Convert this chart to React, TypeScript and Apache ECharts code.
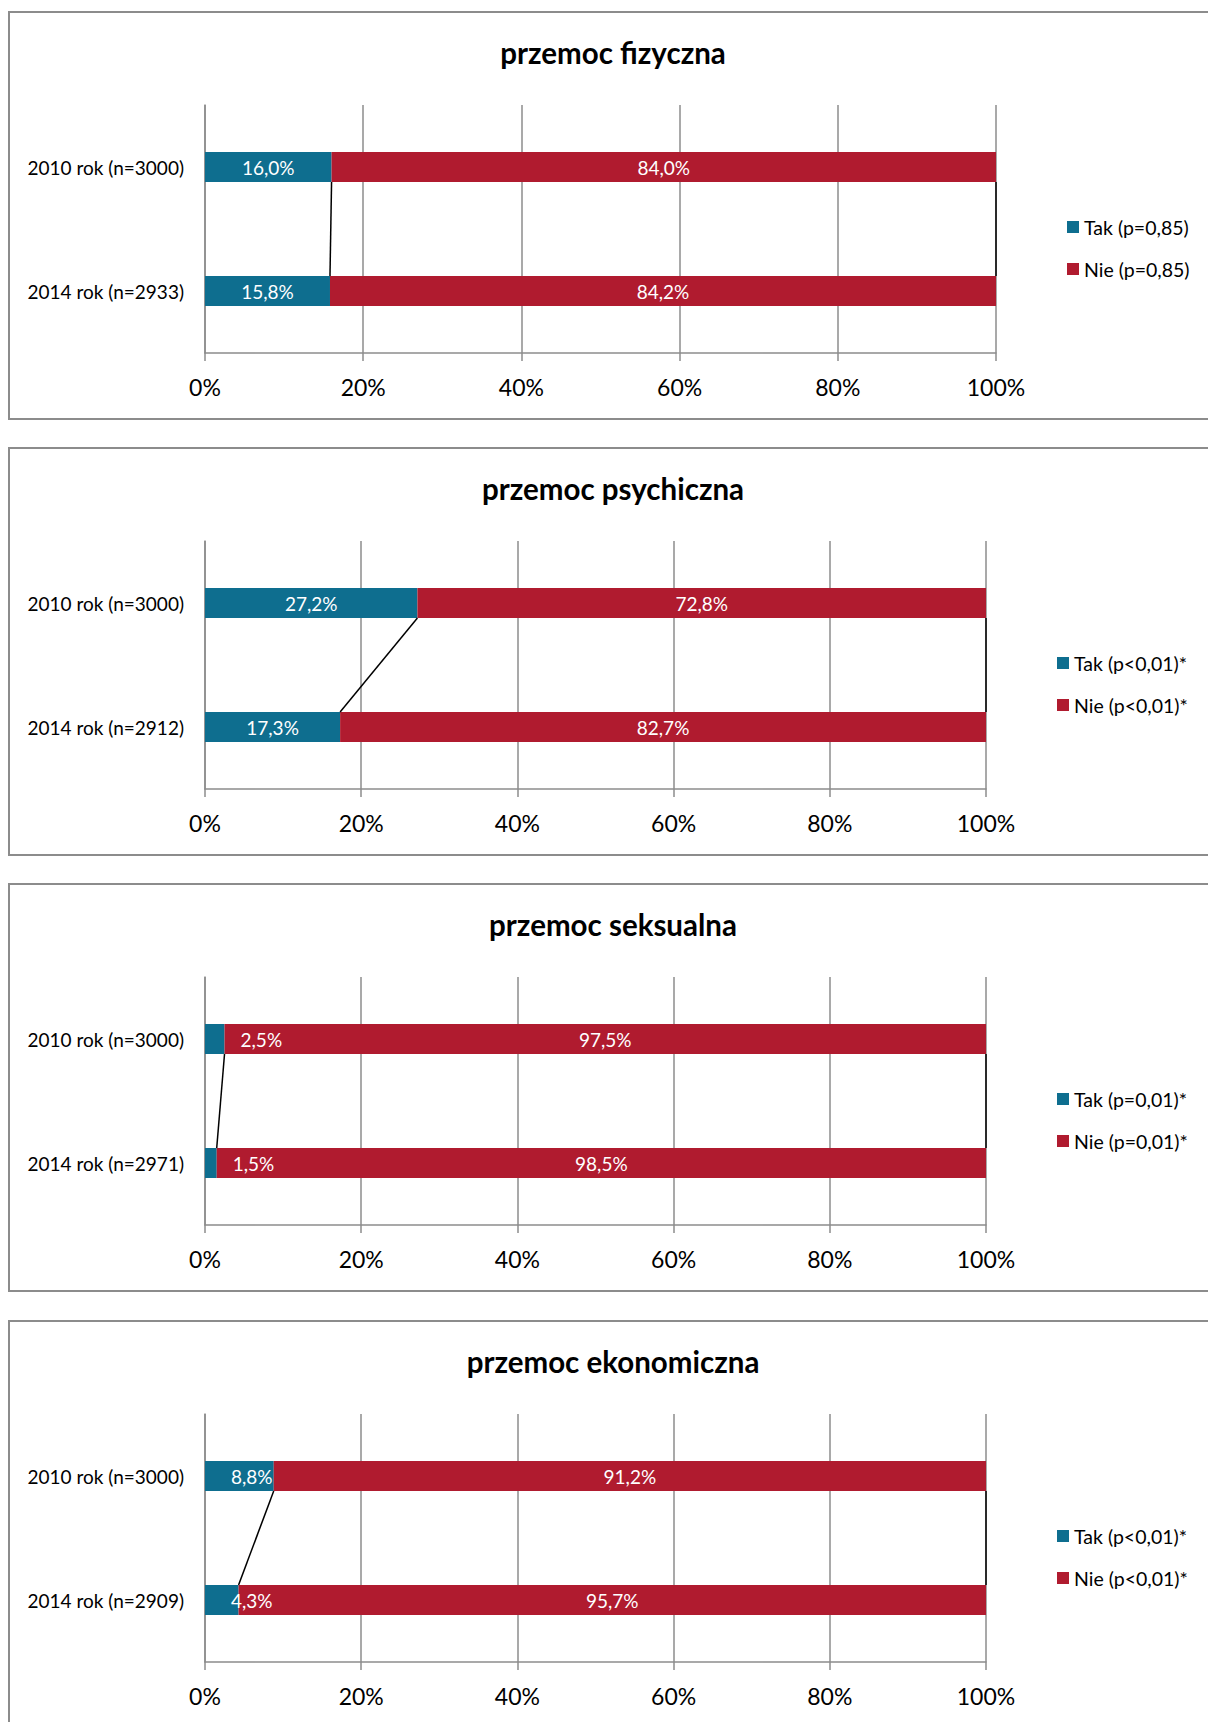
import React, { useEffect, useRef } from "react";
import * as echarts from "echarts";

const titles = ["przemoc fizyczna", "przemoc psychiczna", "przemoc seksualna", "przemoc ekonomiczna"];
const n2014 = [2933, 2912, 2971, 2909];
const takValues = [
  [16.0, 15.8],
  [27.2, 17.3],
  [2.5, 1.5],
  [8.8, 4.3],
];
const nieValues = [
  [84.0, 84.2],
  [72.8, 82.7],
  [97.5, 98.5],
  [91.2, 95.7],
];
const pTexts = ["p=0,85", "p<0,01", "p=0,01", "p<0,01"];
const significant = [false, true, true, true];
const xTicks = [0, 20, 40, 60, 80, 100];

const BLUE = "#0E6E8F";
const RED = "#B01B2F";
const GRAY = "#8c8c8c";
const FONT = "Lato";

const panelTops = [12, 448, 884, 1321];
const gridWidths = [791, 781, 781, 781];
const legendLefts = [1067, 1057, 1057, 1057];
const takLabelCfg = [
  [{}, {}],
  [{}, {}],
  [{ position: "right", distance: 16 }, { position: "right", distance: 16 }],
  [{ position: "insideLeft", distance: 26 }, { position: "insideLeft", distance: 26 }],
];

const fmt = (v: number) => v.toFixed(1).replace(".", ",") + "%";

function buildOption() {
  const grid: any[] = [];
  const xAxis: any[] = [];
  const yAxis: any[] = [];
  const series: any[] = [];
  const legend: any[] = [];
  const graphic: any[] = [];

  titles.forEach((title, i) => {
    const top = panelTops[i];
    const cats = ["2010 rok (n=3000)", `2014 rok (n=${n2014[i]})`];
    const star = significant[i] ? "*" : "";
    const takName = `Tak (${pTexts[i]})${star}`;
    const nieName = `Nie (${pTexts[i]})${star}`;

    graphic.push({
      type: "rect",
      z: -10,
      shape: { x: 9, y: top, width: 1400, height: 407 },
      style: { fill: "#fff", stroke: GRAY, lineWidth: 2 },
    });
    graphic.push({
      type: "text",
      x: 613,
      y: top + 40,
      style: {
        text: title,
        fontFamily: FONT,
        fontWeight: "bold",
        fontSize: 29.5,
        fill: "#000",
        align: "center",
        verticalAlign: "middle",
      },
    });

    grid.push({ left: 205, top: top + 93, width: gridWidths[i], height: 248, containLabel: false });
    xAxis.push({
      type: "value",
      gridIndex: i,
      min: 0,
      max: 100,
      interval: 20,
      axisLine: { show: true, lineStyle: { color: GRAY, width: 1.5 } },
      axisTick: { show: true, length: 8, lineStyle: { color: GRAY, width: 1.5 } },
      splitLine: { show: true, lineStyle: { color: GRAY, width: 1.5 } },
      axisLabel: {
        formatter: (v: number) => (xTicks.includes(v) ? v + "%" : ""),
        fontFamily: FONT,
        fontSize: 23,
        color: "#000",
        margin: 22,
      },
    });
    yAxis.push({
      type: "category",
      gridIndex: i,
      inverse: true,
      data: cats,
      axisLine: { show: true, lineStyle: { color: GRAY, width: 1.5 } },
      axisTick: { show: false },
      axisLabel: { fontFamily: FONT, fontSize: 19, color: "#000", margin: 21 },
    });

    series.push({
      type: "bar",
      name: takName,
      xAxisIndex: i,
      yAxisIndex: i,
      stack: "s" + i,
      barWidth: "24.2%",
      itemStyle: { color: BLUE },
      label: {
        show: true,
        position: "inside",
        color: "#fff",
        fontFamily: FONT,
        fontSize: 19,
        formatter: (p: any) => fmt(p.value),
      },
      data: takValues[i].map((v, j) => ({ value: v, label: takLabelCfg[i][j] })),
    });
    series.push({
      type: "bar",
      name: nieName,
      xAxisIndex: i,
      yAxisIndex: i,
      stack: "s" + i,
      barWidth: "24.2%",
      itemStyle: { color: RED },
      label: {
        show: true,
        position: "inside",
        color: "#fff",
        fontFamily: FONT,
        fontSize: 19,
        formatter: (p: any) => fmt(p.value),
      },
      data: nieValues[i],
    });
    series.push({
      type: "custom",
      xAxisIndex: i,
      yAxisIndex: i,
      z: 5,
      silent: true,
      data: [
        [takValues[i][0], takValues[i][1]],
        [takValues[i][0] + nieValues[i][0], takValues[i][1] + nieValues[i][1]],
      ],
      encode: { x: [0, 1] },
      renderItem: (params: any, api: any) => {
        const v0 = api.value(0);
        const v1 = api.value(1);
        const p0 = api.coord([v0, 0]);
        const p1 = api.coord([v1, 1]);
        const band = api.size([0, 1])[1];
        const half = band * 0.121;
        return {
          type: "line",
          shape: { x1: p0[0], y1: p0[1] + half, x2: p1[0], y2: p1[1] - half },
          style: { stroke: "#000", lineWidth: 1.5 },
        };
      },
    });

    legend.push({
      orient: "vertical",
      left: legendLefts[i],
      top: top + 205,
      padding: 0,
      itemWidth: 12,
      itemHeight: 12,
      itemGap: 22,
      icon: "rect",
      data: [takName, nieName],
      textStyle: { fontFamily: FONT, fontSize: 19.5, color: "#000", lineHeight: 20 },
      selectedMode: false,
    });
  });

  return { animation: false, backgroundColor: "#fff", grid, xAxis, yAxis, series, legend, graphic };
}

export default function App() {
  const ref = useRef<HTMLDivElement>(null);
  useEffect(() => {
    if (!ref.current) return;
    const chart = echarts.init(ref.current, undefined, { renderer: "svg" });
    chart.setOption(buildOption() as any);
    return () => chart.dispose();
  }, []);
  return (
    <div
      ref={ref}
      style={{ position: "absolute", left: 0, top: 0, width: 1208, height: 1722 }}
    />
  );
}
